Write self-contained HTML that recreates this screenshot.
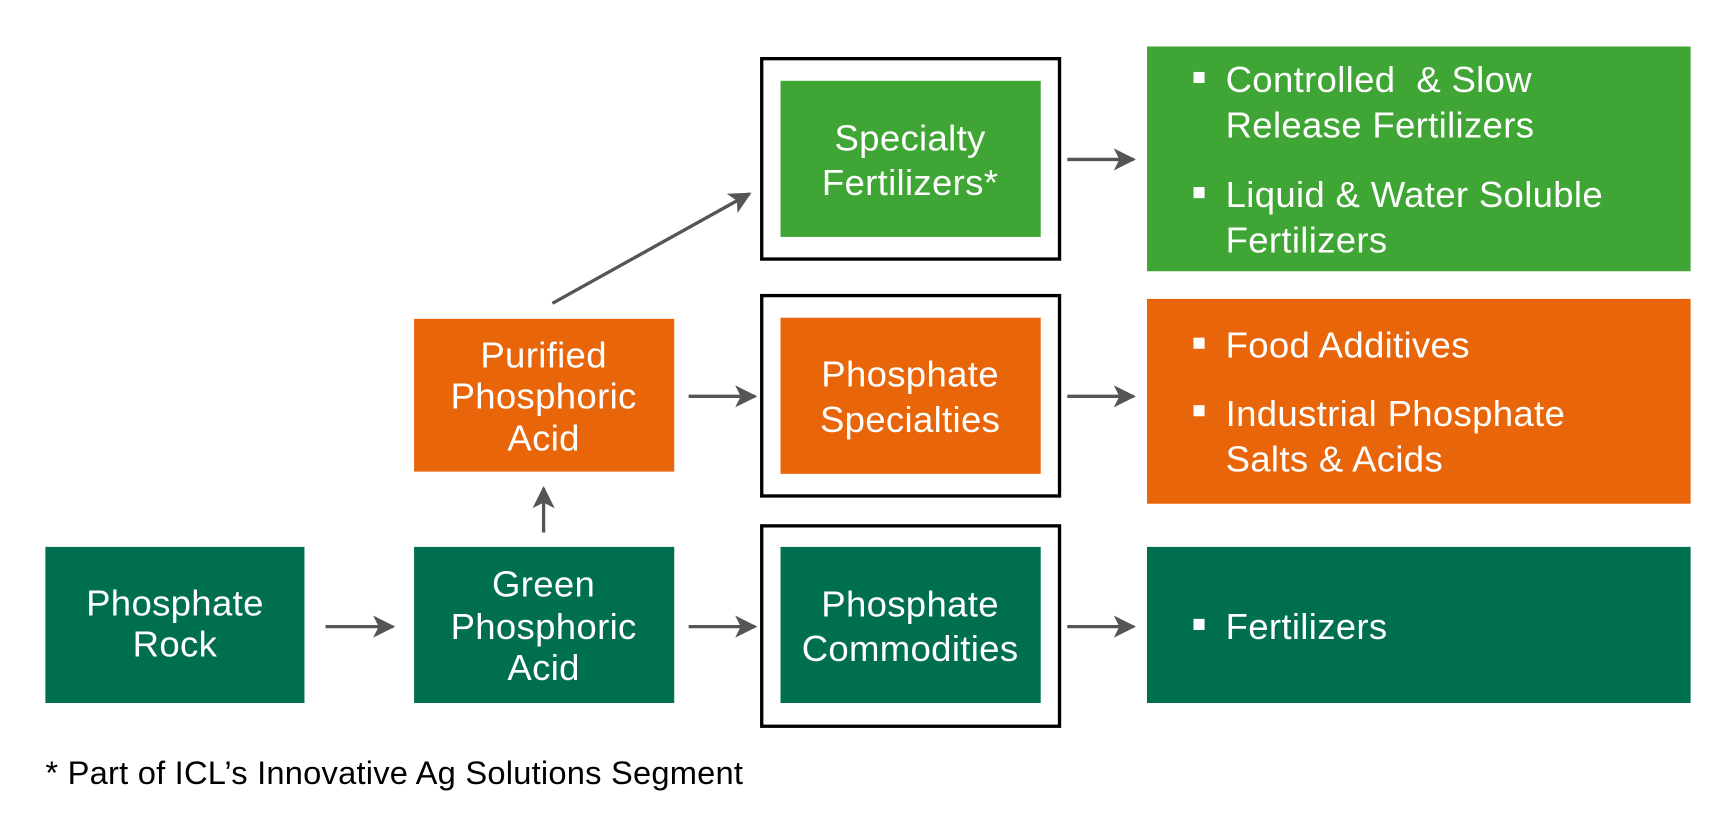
<!DOCTYPE html>
<html><head><meta charset="utf-8"><style>
html,body{margin:0;padding:0;background:#fff;}
svg{display:block;}
text{font-family:"Liberation Sans",Arial,sans-serif;fill:#fff;font-size:33px;letter-spacing:0.3px;}
.c{text-anchor:middle;}
.f{fill:#000;font-size:29.5px;letter-spacing:0.2px;}
</style></head><body>
<svg width="1736" height="827" viewBox="0 0 1568 747" preserveAspectRatio="none" xmlns="http://www.w3.org/2000/svg">
<defs>
<marker id="b" viewBox="0 0 10 10" markerWidth="24" markerHeight="20" refX="9" refY="5" orient="auto" markerUnits="userSpaceOnUse"><path d="M0,0 L10,5 L0,10 L2.5,5 Z" fill="#555"/></marker></defs>
<rect x="688" y="53" width="269" height="181" fill="none" stroke="#000" stroke-width="3"/>
<rect x="688" y="267" width="269" height="181" fill="none" stroke="#000" stroke-width="3"/>
<rect x="688" y="475" width="269" height="181" fill="none" stroke="#000" stroke-width="3"/>
<rect x="41" y="494" width="234" height="141" fill="#006f50"/>
<rect x="374" y="494" width="235" height="141" fill="#006f50"/>
<rect x="374" y="288" width="235" height="138" fill="#e8650a"/>
<rect x="705" y="73" width="235" height="141" fill="#3fa535"/>
<rect x="705" y="287" width="235" height="141" fill="#e8650a"/>
<rect x="705" y="494" width="235" height="141" fill="#006f50"/>
<rect x="1036" y="42" width="491" height="203" fill="#3fa535"/>
<rect x="1036" y="270" width="491" height="185" fill="#e8650a"/>
<rect x="1036" y="494" width="491" height="141" fill="#006f50"/>
<g stroke="#555" stroke-width="3" marker-end="url(#b)">
<line x1="294" y1="566" x2="355" y2="566"/>
<line x1="622" y1="566" x2="682" y2="566"/>
<line x1="622" y1="358" x2="682" y2="358"/>
<line x1="964" y1="144" x2="1024" y2="144"/>
<line x1="964" y1="358" x2="1024" y2="358"/>
<line x1="964" y1="566" x2="1024" y2="566"/>
<line x1="491" y1="481" x2="491" y2="441"/>
<line x1="499" y1="274" x2="677" y2="175"/>
</g>
<text class="c" x="158" y="556">Phosphate</text>
<text class="c" x="158" y="593">Rock</text>
<text class="c" x="491" y="539">Green</text>
<text class="c" x="491" y="577">Phosphoric</text>
<text class="c" x="491" y="614">Acid</text>
<text class="c" x="491" y="332">Purified</text>
<text class="c" x="491" y="369">Phosphoric</text>
<text class="c" x="491" y="407">Acid</text>
<text class="c" x="822" y="136">Specialty</text>
<text class="c" x="822" y="176">Fertilizers*</text>
<text class="c" x="822" y="349">Phosphate</text>
<text class="c" x="822" y="390">Specialties</text>
<text class="c" x="822" y="557">Phosphate</text>
<text class="c" x="822" y="597">Commodities</text>
<g fill="#fff">
<rect x="1078" y="65" width="10" height="10"/>
<rect x="1078" y="169" width="10" height="10"/>
<rect x="1078" y="305" width="10" height="10"/>
<rect x="1078" y="366" width="10" height="10"/>
<rect x="1078" y="559" width="10" height="10"/>
</g>
<text x="1107" y="83" xml:space="preserve">Controlled  &amp; Slow</text>
<text x="1107" y="124">Release Fertilizers</text>
<text x="1107" y="187">Liquid &amp; Water Soluble</text>
<text x="1107" y="228">Fertilizers</text>
<text x="1107" y="323">Food Additives</text>
<text x="1107" y="385">Industrial Phosphate</text>
<text x="1107" y="426">Salts &amp; Acids</text>
<text x="1107" y="577">Fertilizers</text>
<text class="f" x="41" y="708">* Part of ICL’s Innovative Ag Solutions Segment</text>
</svg>
</body></html>
